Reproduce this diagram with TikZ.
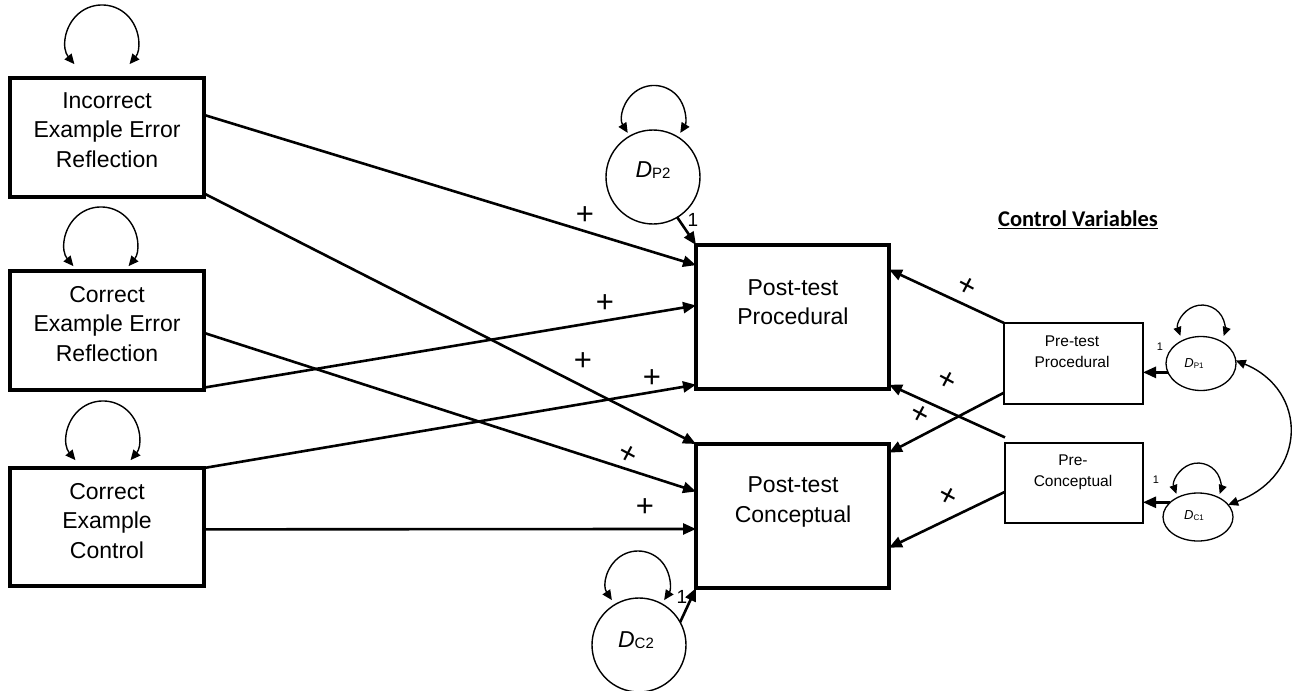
\documentclass[tikz,border=0pt]{standalone}
\usepackage{fontspec}
\setmainfont{Liberation Sans}
\newfontfamily\calfont{Carlito}
\usetikzlibrary{arrows.meta,shapes.geometric,calc}
\begin{document}
\begin{tikzpicture}[x=1pt,y=-1pt,
  box/.style={draw, rectangle, line width=3.2pt, inner sep=0pt, outer sep=0pt},
  sbox/.style={draw, rectangle, line width=2.8pt, inner sep=0pt, outer sep=0pt},
  txt/.style={align=center, font=\fontsize{23}{29.5}\selectfont},
  stxt/.style={align=center, font=\fontsize{15.5}{21}\selectfont},
  arr/.style={line width=2.6pt, -{Triangle[length=13pt,width=11pt]}},
  lp/.style={line width=1.4pt, {Triangle[length=10pt,width=9pt]}-{Triangle[length=10pt,width=9pt]}},
  slp/.style={line width=1.3pt, {Triangle[length=9pt,width=8pt]}-{Triangle[length=9pt,width=8pt]}},
  dis/.style={draw, circle, line width=1.4pt, minimum size=94pt, inner sep=0pt, outer sep=0pt},
  sdis/.style={draw, ellipse, line width=1.3pt, inner sep=0pt, outer sep=0pt},
  pl/.style={font=\fontsize{31}{31}\selectfont, inner sep=0pt},
  one/.style={font=\fontsize{19}{19}\selectfont, inner sep=0pt},
  sone/.style={font=\fontsize{11}{11}\selectfont, inner sep=0pt}]
\useasboundingbox (0,0) rectangle (1297,690);

% boxes
\node[box, minimum width=194pt, minimum height=119pt] (ieer) at (107,137.5) {};
\node[box, minimum width=194pt, minimum height=119pt] (ceer) at (107,330.5) {};
\node[box, minimum width=194pt, minimum height=118pt] (cec) at (107,527) {};
\node[box, minimum width=193pt, minimum height=144pt] (pp) at (792.5,317) {};
\node[box, minimum width=193pt, minimum height=144pt] (pc) at (792.5,516) {};
\node[sbox, minimum width=139pt, minimum height=81pt] (preproc) at (1073.5,363.5) {};
\node[sbox, minimum width=138pt, minimum height=80pt] (preconc) at (1074,483) {};

% disturbances
\node[dis] (dp2) at (653,177) {};
\node[dis] (dc2) at (639,645) {};
\node[sdis, minimum width=70pt, minimum height=54pt] (dp1) at (1201,363.5) {};
\node[sdis, minimum width=70pt, minimum height=48pt] (dc1) at (1198,517) {};

% texts
\node[txt] (t-ieer) at (107,130) {Incorrect\\Example Error\\Reflection};
\node[txt] (t-ceer) at (107,324) {Correct\\Example Error\\Reflection};
\node[txt] (t-cec) at (107,521) {Correct\\Example\\Control};
\node[txt] (t-pp) at (793,302) {Post-test\\Procedural};
\node[txt] (t-pc) at (793,502) {Post-test\\Conceptual};
\node[stxt] (t-preproc) at (1072,352) {Pre-test\\Procedural};
\node[stxt] (t-preconc) at (1073,472) {Pre-\\Conceptual};
\node (l-dp2) at (653,170) {\fontsize{23}{23}\selectfont\textit{D}\raisebox{-1.5pt}{\fontsize{15}{15}\selectfont P2}};
\node (l-dc2) at (636,640) {\fontsize{23}{23}\selectfont\textit{D}\raisebox{-1.5pt}{\fontsize{15}{15}\selectfont C2}};
\node (l-dp1) at (1194,364) {\fontsize{13}{13}\selectfont\textit{D}\raisebox{-1pt}{\fontsize{8}{8}\selectfont P1}};
\node (l-dc1) at (1194,516) {\fontsize{13}{13}\selectfont\textit{D}\raisebox{-1pt}{\fontsize{8}{8}\selectfont C1}};
\node (cv) at (1078,220) {\calfont\bfseries\fontsize{22.5}{22.5}\selectfont\underline{Control Variables}};

% left paths
\draw[arr] ($(ieer.north east)!0.31!(ieer.south east)$) -- ($(pp.north west)!0.14!(pp.south west)$);
\draw[arr] ($(ieer.north east)!0.97!(ieer.south east)$) -- (pc.north west);
\draw[arr] ($(ceer.north east)!0.52!(ceer.south east)$) -- ($(pc.north west)!0.33!(pc.south west)$);
\draw[arr] ($(ceer.north east)!0.98!(ceer.south east)$) -- ($(pp.north west)!0.42!(pp.south west)$);
\draw[arr] (cec.north east) -- ($(pp.north west)!0.97!(pp.south west)$);
\draw[arr] ($(cec.north east)!0.52!(cec.south east)$) -- ($(pc.north west)!0.59!(pc.south west)$);

% right paths
\draw[arr] (preproc.north west) -- ($(pp.north east)!0.17!(pp.south east)$);
\draw[arr] ($(preproc.north west)!0.86!(preproc.south west)$) -- ($(pc.north east)!0.06!(pc.south east)$);
\draw[arr] ($(preconc.north west)!-0.07!(preconc.south west)$) -- ($(pp.north east)!0.97!(pp.south east)$);
\draw[arr] ($(preconc.north west)!0.61!(preconc.south west)$) -- ($(pc.north east)!0.72!(pc.south east)$);

% disturbance paths
\draw[arr] (dp2.-59) -- (pp.north west);
\draw[arr] (dc2.29) -- (pc.south west);
\draw[arr] (dp1.195) -- (dp1.195 -| preproc.east);
\draw[arr] (dc1.152) -- (dc1.152 -| preconc.east);
\draw[lp] (dp1.5) .. controls (1308,390) and (1308,475) .. (dc1.22);

% self loops
\draw[lp] ($(ieer.north)+(-32.6,-13.9)$) arc[start angle=140,end angle=400,radius=36];
\draw[lp] ($(ceer.north)+(-33.6,-4.9)$) arc[start angle=140,end angle=400,radius=36];
\draw[lp] ($(cec.north)+(-31.6,-7.9)$) arc[start angle=140,end angle=400,radius=36];
\draw[lp] ($(dp2.center)+(-25.3,-44.1)$) arc[start angle=148,end angle=392,radius=31];
\draw[lp] ($(dc2.center)+(-27.1,-44.9)$) arc[start angle=146,end angle=394,radius=31.5];
\draw[slp] ($(dp1.center)+(-20.6,-27.6)$) arc[start angle=160,end angle=380,radius=23];
\draw[slp] ($(dc1.center)+(-21.6,-23.1)$) arc[start angle=160,end angle=380,radius=23];

% labels
\node[one] (o-dp2) at (693,220) {1};
\node[one] (o-dc2) at (682,597) {1};
\node[sone] (o-dp1) at (1160,347) {1};
\node[sone] (o-dc1) at (1156,480) {1};

\node[pl] (p1) at (585,216) {+};
\node[pl] (p2) at (605,304) {+};
\node[pl] (p3) at (583,362) {+};
\node[pl] (p4) at (652,379) {+};
\node[pl, rotate=-28] (p5) at (628,455) {+};
\node[pl] (p6) at (645,508) {+};
\node[pl, rotate=-28] (p7) at (967,287) {+};
\node[pl, rotate=-28] (p8) at (947,381) {+};
\node[pl, rotate=-28] (p9) at (920,415) {+};
\node[pl, rotate=-28] (p10) at (948,497) {+};
\end{tikzpicture}
\end{document}
